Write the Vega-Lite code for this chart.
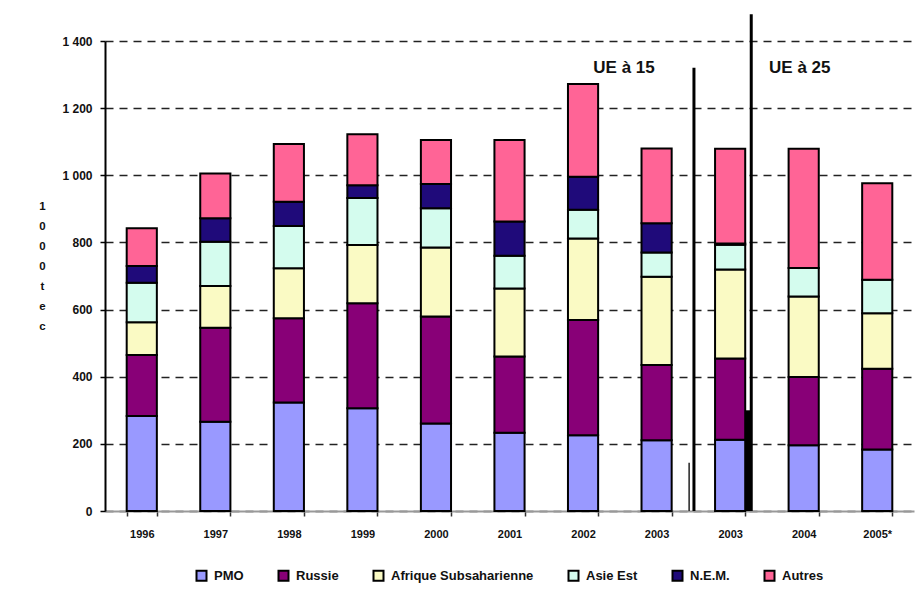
{
  "$schema": "https://vega.github.io/schema/vega-lite/v6.json",
  "width": 809,
  "height": 470,
  "autosize": {"type": "none"},
  "padding": {"left": 105, "top": 41, "right": 3, "bottom": 79},
  "background": "white",
  "config": {"view": {"stroke": null}, "font": "Liberation Sans"},
  "datasets": {
    "flux": [
      {"annee": "1996", "region": "PMO", "rang": 1, "valeur": 283},
      {"annee": "1996", "region": "Russie", "rang": 2, "valeur": 182},
      {"annee": "1996", "region": "Afrique Subsaharienne", "rang": 3, "valeur": 97},
      {"annee": "1996", "region": "Asie Est", "rang": 4, "valeur": 118},
      {"annee": "1996", "region": "N.E.M.", "rang": 5, "valeur": 50},
      {"annee": "1996", "region": "Autres", "rang": 6, "valeur": 112},
      {"annee": "1997", "region": "PMO", "rang": 1, "valeur": 266},
      {"annee": "1997", "region": "Russie", "rang": 2, "valeur": 280},
      {"annee": "1997", "region": "Afrique Subsaharienne", "rang": 3, "valeur": 124},
      {"annee": "1997", "region": "Asie Est", "rang": 4, "valeur": 132},
      {"annee": "1997", "region": "N.E.M.", "rang": 5, "valeur": 70},
      {"annee": "1997", "region": "Autres", "rang": 6, "valeur": 133},
      {"annee": "1998", "region": "PMO", "rang": 1, "valeur": 323},
      {"annee": "1998", "region": "Russie", "rang": 2, "valeur": 251},
      {"annee": "1998", "region": "Afrique Subsaharienne", "rang": 3, "valeur": 149},
      {"annee": "1998", "region": "Asie Est", "rang": 4, "valeur": 126},
      {"annee": "1998", "region": "N.E.M.", "rang": 5, "valeur": 72},
      {"annee": "1998", "region": "Autres", "rang": 6, "valeur": 172},
      {"annee": "1999", "region": "PMO", "rang": 1, "valeur": 306},
      {"annee": "1999", "region": "Russie", "rang": 2, "valeur": 313},
      {"annee": "1999", "region": "Afrique Subsaharienne", "rang": 3, "valeur": 173},
      {"annee": "1999", "region": "Asie Est", "rang": 4, "valeur": 140},
      {"annee": "1999", "region": "N.E.M.", "rang": 5, "valeur": 38},
      {"annee": "1999", "region": "Autres", "rang": 6, "valeur": 152},
      {"annee": "2000", "region": "PMO", "rang": 1, "valeur": 261},
      {"annee": "2000", "region": "Russie", "rang": 2, "valeur": 318},
      {"annee": "2000", "region": "Afrique Subsaharienne", "rang": 3, "valeur": 206},
      {"annee": "2000", "region": "Asie Est", "rang": 4, "valeur": 117},
      {"annee": "2000", "region": "N.E.M.", "rang": 5, "valeur": 72},
      {"annee": "2000", "region": "Autres", "rang": 6, "valeur": 131},
      {"annee": "2001", "region": "PMO", "rang": 1, "valeur": 233},
      {"annee": "2001", "region": "Russie", "rang": 2, "valeur": 227},
      {"annee": "2001", "region": "Afrique Subsaharienne", "rang": 3, "valeur": 203},
      {"annee": "2001", "region": "Asie Est", "rang": 4, "valeur": 97},
      {"annee": "2001", "region": "N.E.M.", "rang": 5, "valeur": 102},
      {"annee": "2001", "region": "Autres", "rang": 6, "valeur": 243},
      {"annee": "2002", "region": "PMO", "rang": 1, "valeur": 226},
      {"annee": "2002", "region": "Russie", "rang": 2, "valeur": 343},
      {"annee": "2002", "region": "Afrique Subsaharienne", "rang": 3, "valeur": 243},
      {"annee": "2002", "region": "Asie Est", "rang": 4, "valeur": 85},
      {"annee": "2002", "region": "N.E.M.", "rang": 5, "valeur": 99},
      {"annee": "2002", "region": "Autres", "rang": 6, "valeur": 276},
      {"annee": "2003", "region": "PMO", "rang": 1, "valeur": 211},
      {"annee": "2003", "region": "Russie", "rang": 2, "valeur": 224},
      {"annee": "2003", "region": "Afrique Subsaharienne", "rang": 3, "valeur": 263},
      {"annee": "2003", "region": "Asie Est", "rang": 4, "valeur": 72},
      {"annee": "2003", "region": "N.E.M.", "rang": 5, "valeur": 87},
      {"annee": "2003", "region": "Autres", "rang": 6, "valeur": 223},
      {"annee": "2003 ", "region": "PMO", "rang": 1, "valeur": 212},
      {"annee": "2003 ", "region": "Russie", "rang": 2, "valeur": 242},
      {"annee": "2003 ", "region": "Afrique Subsaharienne", "rang": 3, "valeur": 265},
      {"annee": "2003 ", "region": "Asie Est", "rang": 4, "valeur": 74},
      {"annee": "2003 ", "region": "N.E.M.", "rang": 5, "valeur": 4},
      {"annee": "2003 ", "region": "Autres", "rang": 6, "valeur": 282},
      {"annee": "2004", "region": "PMO", "rang": 1, "valeur": 196},
      {"annee": "2004", "region": "Russie", "rang": 2, "valeur": 203},
      {"annee": "2004", "region": "Afrique Subsaharienne", "rang": 3, "valeur": 240},
      {"annee": "2004", "region": "Asie Est", "rang": 4, "valeur": 85},
      {"annee": "2004", "region": "Autres", "rang": 6, "valeur": 355},
      {"annee": "2005*", "region": "PMO", "rang": 1, "valeur": 183},
      {"annee": "2005*", "region": "Russie", "rang": 2, "valeur": 241},
      {"annee": "2005*", "region": "Afrique Subsaharienne", "rang": 3, "valeur": 165},
      {"annee": "2005*", "region": "Asie Est", "rang": 4, "valeur": 100},
      {"annee": "2005*", "region": "Autres", "rang": 6, "valeur": 287}
    ]
  },
  "encoding": {
    "x": {
      "field": "annee",
      "type": "nominal",
      "sort": ["1996", "1997", "1998", "1999", "2000", "2001", "2002", "2003", "2003 ", "2004", "2005*"],
      "scale": {"paddingInner": 0.59, "paddingOuter": 0.295},
      "axis": {
        "title": null,
        "labelAngle": 0,
        "labelFontSize": 11,
        "labelFontWeight": "bold",
        "labelColor": "#111",
        "labelPadding": 12,
        "tickBand": "extent",
        "tickSize": 5,
        "tickColor": "#333",
        "tickWidth": 1.5,
        "domainColor": "#999",
        "domainWidth": 2,
        "grid": false
      }
    }
  },
  "layer": [
    {
      "data": {"name": "flux"},
      "mark": {"type": "bar", "stroke": "black", "strokeWidth": 2},
      "encoding": {
        "y": {
          "field": "valeur",
          "type": "quantitative",
          "stack": "zero",
          "scale": {"domain": [0, 1400], "nice": false},
          "axis": {
            "values": [0, 200, 400, 600, 800, 1000, 1200, 1400],
            "labelExpr": "replace(format(datum.value, ','), ',', ' ')",
            "labelFontSize": 12,
            "labelFontWeight": "bold",
            "labelColor": "#111",
            "labelPadding": 8,
            "tickSize": 5,
            "tickColor": "black",
            "tickWidth": 1.5,
            "domainColor": "black",
            "domainWidth": 2,
            "grid": true,
            "gridDash": [8, 6],
            "gridColor": "#222",
            "gridWidth": 1.5,
            "title": ["1", "0", "0", "0", " ", "t", "e", "c"],
            "titleAngle": 0,
            "titleAlign": "center",
            "titleBaseline": "top",
            "titleX": -63,
            "titleY": 159,
            "titleLineHeight": 20,
            "titleFontSize": 11.5,
            "titleFontWeight": "bold",
            "titleColor": "#111"
          }
        },
        "color": {
          "field": "region",
          "type": "nominal",
          "scale": {
            "domain": ["PMO", "Russie", "Afrique Subsaharienne", "Asie Est", "N.E.M.", "Autres"],
            "range": ["#9999FF", "#880077", "#FAFAC4", "#D4FCEE", "#1F0A7A", "#FF6496"]
          },
          "legend": {
            "title": null,
            "orient": "none",
            "direction": "horizontal",
            "legendX": 90,
            "legendY": 528,
            "symbolType": "square",
            "symbolSize": 100,
            "symbolStrokeColor": "black",
            "symbolStrokeWidth": 2,
            "symbolOpacity": 1,
            "labelFontSize": 13,
            "labelFontWeight": "bold",
            "labelColor": "#111",
            "labelOffset": 6,
            "columnPadding": 30
          }
        },
        "order": {"field": "rang", "type": "quantitative"}
      }
    },
    {
      "data": {"values": [{"annee": "2003 ", "bas": 0, "haut": 1320}]},
      "mark": {"type": "rule", "color": "black", "strokeWidth": 3},
      "encoding": {
        "x": {"field": "annee", "type": "nominal", "bandPosition": -0.7},
        "y": {"field": "bas", "type": "quantitative"},
        "y2": {"field": "haut"}
      }
    },
    {
      "data": {"values": [{"annee": "2003 ", "bas": 0, "haut": 1480}]},
      "mark": {"type": "rule", "color": "black", "strokeWidth": 3},
      "encoding": {
        "x": {"field": "annee", "type": "nominal", "bandPosition": 1.2},
        "y": {"field": "bas", "type": "quantitative"},
        "y2": {"field": "haut"}
      }
    },
    {
      "data": {"values": [{"annee": "2003 ", "bas": 0, "haut": 300}]},
      "mark": {"type": "rule", "color": "black", "strokeWidth": 6},
      "encoding": {
        "x": {"field": "annee", "type": "nominal", "bandPosition": 1.1},
        "y": {"field": "bas", "type": "quantitative"},
        "y2": {"field": "haut"}
      }
    },
    {
      "data": {"values": [{"annee": "2003 ", "bas": 0, "haut": 144}]},
      "mark": {"type": "rule", "color": "#222", "strokeWidth": 1.5},
      "encoding": {
        "x": {"field": "annee", "type": "nominal", "bandPosition": -0.86},
        "y": {"field": "bas", "type": "quantitative"},
        "y2": {"field": "haut"}
      }
    },
    {
      "data": {"values": [{"annee": "2003", "niveau": 1320, "texte": "UE à 15"}]},
      "mark": {"type": "text", "fontSize": 17, "fontWeight": "bold", "color": "#111", "align": "center", "baseline": "middle"},
      "encoding": {
        "x": {"field": "annee", "type": "nominal", "bandPosition": -0.58},
        "y": {"field": "niveau", "type": "quantitative"},
        "text": {"field": "texte"}
      }
    },
    {
      "data": {"values": [{"annee": "2004", "niveau": 1320, "texte": "UE à 25"}]},
      "mark": {"type": "text", "fontSize": 17, "fontWeight": "bold", "color": "#111", "align": "center", "baseline": "middle"},
      "encoding": {
        "x": {"field": "annee", "type": "nominal", "bandPosition": 0.37},
        "y": {"field": "niveau", "type": "quantitative"},
        "text": {"field": "texte"}
      }
    }
  ]
}
